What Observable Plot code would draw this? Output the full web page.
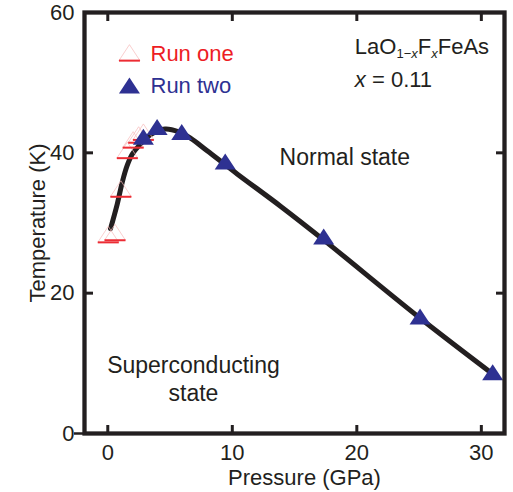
<!DOCTYPE html>
<html><head><meta charset="utf-8">
<script src="https://cdn.jsdelivr.net/npm/d3@7"></script>
<script src="https://cdn.jsdelivr.net/npm/@observablehq/plot@0.6"></script>
<style>
html,body{margin:0;padding:0;background:#fff;}
#chart{width:513px;height:492px;overflow:hidden;}
</style></head>
<body><div id="chart"></div>
<script>
// ---- data ----
const runOnePressure = [0.04, 0.58, 1.05, 1.57, 2.04, 2.48, 2.86];
const runOneTc       = [28.0, 28.3, 34.5, 40.0, 41.5, 42.2, 42.6];
const runTwoPressure = [2.86, 3.96, 5.94, 9.43, 17.34, 25.08, 30.91];
const runTwoTc       = [41.9, 43.3, 42.6, 38.4, 27.7, 16.3, 8.35];
const curvePressure  = [0.22, 0.76, 1.16, 1.56, 1.96, 2.49, 3.43, 4.6, 5.7, 6.64, 7.98, 10.39, 13.87, 17.33, 25.04, 31.2];
const curveTc        = [29.2, 32.7, 35.8, 38.2, 39.8, 41.0, 42.6, 43.4, 43.0, 42.1, 40.3, 37.0, 32.4, 27.6, 16.5, 8.1];
const xTicks = [0, 10, 20, 30];
const yTicks = [0, 20, 40, 60];
const seriesNames = ["Run one", "Run two"];
const xLabel = "Pressure (GPa)";
const yLabel = "Temperature (K)";
const formula = "LaO1−xF xFeAs";
const dopingLabel = "x = 0.11";
const normalLabel = "Normal state";
const scLabel = "Superconducting\nstate";

// ---- tables ----
const runOne = runOnePressure.map((p, i) => ({p, t: runOneTc[i]}));
const runTwo = runTwoPressure.map((p, i) => ({p, t: runTwoTc[i]}));
const curve = curvePressure.map((p, i) => ({p, t: curveTc[i]}));

// ---- styling ----
const INK = "#231f20", RED = "#ed1c24", BLUE = "#2e3192", PINK = "#f7b9b9", BAR = "#ec2c34";
const TW = 21, TH = 16;
const triShape = {draw(c) { c.moveTo(0, -2 * TH / 3); c.lineTo(TW / 2, TH / 3); c.lineTo(-TW / 2, TH / 3); c.closePath(); }};
const baseShape = {draw(c) { c.moveTo(-TW / 2, TH / 3); c.lineTo(TW / 2, TH / 3); }};
const FS = 22, FA = 23;
const noText = () => "";

const svg = Plot.plot({
  width: 513, height: 492,
  marginLeft: 84, marginRight: 9, marginTop: 12, marginBottom: 59,
  x: {domain: [-1.87, 31.86]},
  y: {domain: [0, 60]},
  style: {fontFamily: "'Liberation Sans', Arial, sans-serif", fontSize: FS + "px", color: INK, background: "#fff", overflow: "visible"},
  marks: [
    // ticks (inward)
    Plot.axisX(xTicks, {anchor: "bottom", tickSize: -8, strokeWidth: 3, tickFormat: noText, label: null}),
    Plot.axisX(xTicks, {anchor: "top", tickSize: -8, strokeWidth: 3, tickFormat: noText, label: null}),
    Plot.axisY(yTicks, {anchor: "left", tickSize: -9, strokeWidth: 3, tickFormat: noText, label: null}),
    Plot.axisY(yTicks, {anchor: "right", tickSize: -9, strokeWidth: 3, tickFormat: noText, label: null}),
    Plot.axisY([0], {anchor: "left", tickSize: 10, strokeWidth: 2.5, tickFormat: noText, label: null}),
    // tick labels
    Plot.axisX(xTicks, {anchor: "bottom", tickSize: 0, tickPadding: 11, label: null, fontSize: FS}),
    Plot.axisY(yTicks, {anchor: "left", tickSize: 0, tickPadding: 10, label: null, fontSize: FS}),
    // axis titles
    Plot.text([xLabel], {frameAnchor: "bottom", text: d => d, dx: 10, dy: 51, lineAnchor: "bottom", fontSize: FS, fill: INK}),
    Plot.text([yLabel], {frameAnchor: "left", text: d => d, rotate: -90, dx: -40, lineAnchor: "bottom", textAnchor: "middle", fontSize: FS, fill: INK}),
    // curve
    Plot.line(curve, {x: "p", y: "t", stroke: INK, strokeWidth: 5, curve: "catmull-rom"}),
    // run one
    Plot.dot(runOne, {x: "p", y: "t", symbol: triShape, fill: "none", stroke: PINK, strokeWidth: 0.7}),
    Plot.dot(runOne, {x: "p", y: "t", symbol: baseShape, fill: "none", stroke: BAR, strokeWidth: 2}),
    // run two
    Plot.dot(runTwo, {x: "p", y: "t", symbol: triShape, fill: BLUE, stroke: "none"}),
    // legend
    Plot.dot([seriesNames[0]], {x: 1.74, y: 53.9, symbol: triShape, fill: "none", stroke: PINK, strokeWidth: 0.7}),
    Plot.dot([seriesNames[0]], {x: 1.74, y: 53.9, symbol: baseShape, fill: "none", stroke: BAR, strokeWidth: 2}),
    Plot.dot([seriesNames[1]], {x: 1.74, y: 49.2, symbol: triShape, fill: BLUE, stroke: "none"}),
    Plot.text([seriesNames[0]], {x: 3.43, y: 53.1, text: d => d, textAnchor: "start", lineAnchor: "bottom", fill: RED, fontSize: FS}),
    Plot.text([seriesNames[1]], {x: 3.43, y: 48.5, text: d => d, textAnchor: "start", lineAnchor: "bottom", fill: BLUE, fontSize: FS}),
    // annotations
    Plot.text([formula], {x: 19.84, y: 54.1, text: d => d, textAnchor: "start", lineAnchor: "bottom", fill: INK, fontSize: FS}),
    Plot.text([dopingLabel], {x: 19.84, y: 49.4, text: d => d, textAnchor: "start", lineAnchor: "bottom", fill: INK, fontSize: FS}),
    Plot.text([normalLabel], {x: 13.8, y: 38.2, text: d => d, textAnchor: "start", lineAnchor: "bottom", fill: INK, fontSize: FA}),
    Plot.text([scLabel], {x: 6.88, y: 4.7, text: d => d, textAnchor: "middle", lineAnchor: "bottom", lineHeight: 28 / FA, fill: INK, fontSize: FA}),
    // frame
    Plot.frame({stroke: INK, strokeWidth: 4.3})
  ]
});

// rich text: subscripts and italics
d3.select(svg).selectAll("text").filter(function() { return this.textContent === formula; }).each(function() {
  const t = d3.select(this); t.text(null);
  t.append("tspan").text("LaO");
  t.append("tspan").attr("font-size", 13).attr("dy", 4).text("1−");
  t.append("tspan").attr("font-size", 13).attr("font-style", "italic").text("x");
  t.append("tspan").attr("dy", -4).text("F");
  t.append("tspan").attr("font-size", 13).attr("font-style", "italic").attr("dy", 4).text("x");
  t.append("tspan").attr("dy", -4).text("FeAs");
});
d3.select(svg).selectAll("text").filter(function() { return this.textContent === dopingLabel; }).each(function() {
  const t = d3.select(this); t.text(null);
  t.append("tspan").attr("font-style", "italic").text("x");
  t.append("tspan").text(" = 0.11");
});
document.getElementById("chart").appendChild(svg);
</script>
</body></html>
